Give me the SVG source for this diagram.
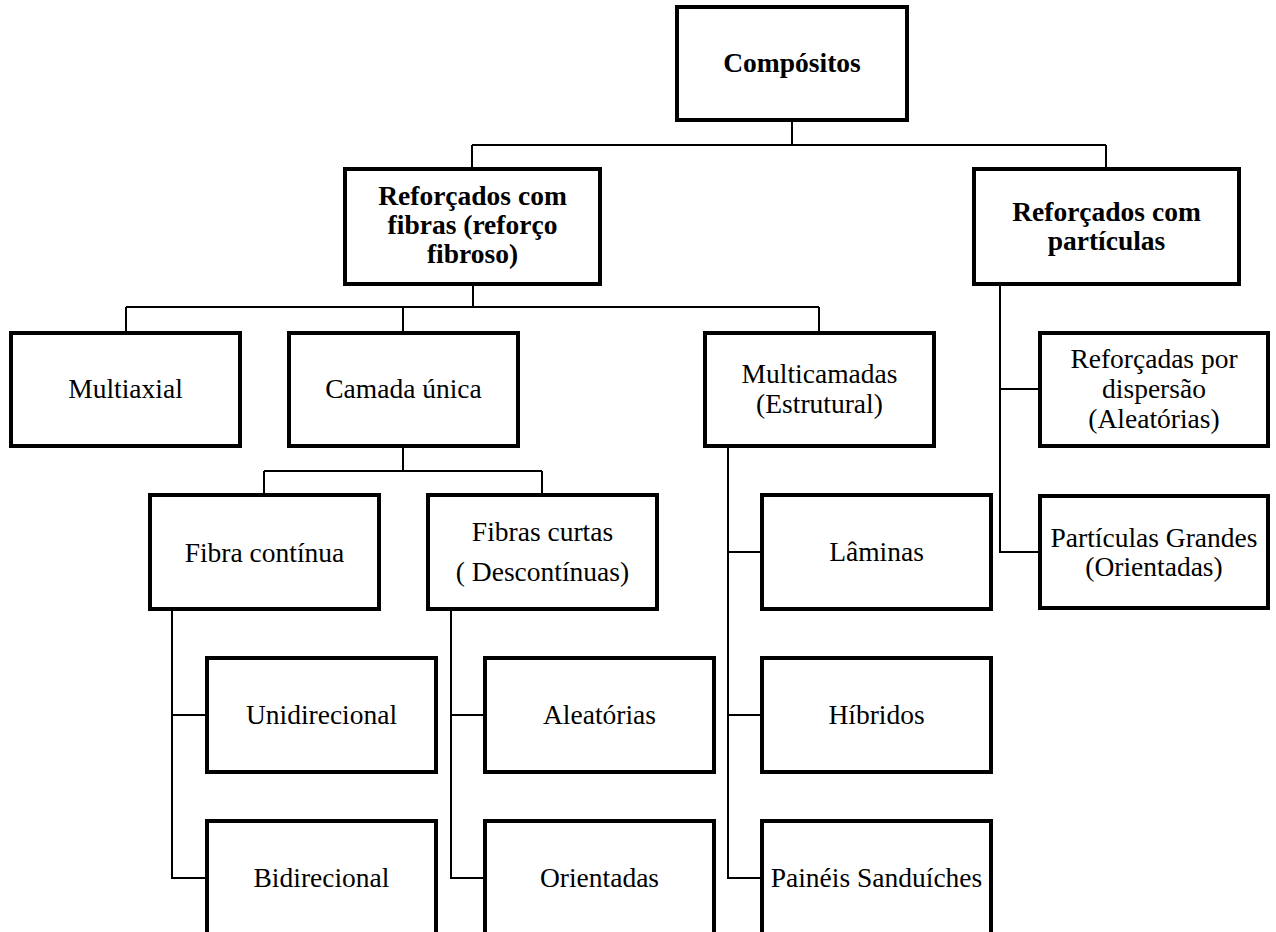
<svg xmlns="http://www.w3.org/2000/svg" width="1276" height="932" viewBox="0 0 1276 932">
<style>
.box{fill:#fff;stroke:#000;stroke-width:4}
.t{font-family:"Liberation Serif","Times New Roman",serif;font-size:27.5px;fill:#000;text-anchor:middle}
.b{font-weight:bold}
#connectors path{fill:none;stroke:#000;stroke-width:2}
</style>
<rect width="1276" height="932" fill="#fff"/>
<g id="connectors">
<path d="M792 120V145M472 145H1106M472 145V169M1106 145V169"/>
<path d="M473 284V307M126 307H819M126 307V333M403 307V333M819 307V333"/>
<path d="M403 446V471M264 471H542M264 471V495M542 471V495"/>
<path d="M172 609V878H207M172 715H207"/>
<path d="M451 609V878H485M451 715H485"/>
<path d="M728 446V878H763M728 552H763M728 715H763"/>
<path d="M1000 284V552H1040M1000 389H1040"/>
</g>
<g id="compositos"><rect class="box" x="677" y="7" width="230" height="113"/><text class="t b" x="792" y="72">Compósitos</text></g>
<g id="fibras"><rect class="box" x="345" y="169" width="255" height="115"/><text class="t b" x="472.5" y="205">Reforçados com</text><text class="t b" x="472.5" y="234">fibras (reforço</text><text class="t b" x="472.5" y="263">fibroso)</text></g>
<g id="particulas"><rect class="box" x="974" y="169" width="265" height="115"/><text class="t b" x="1106.5" y="221">Reforçados com</text><text class="t b" x="1106.5" y="250">partículas</text></g>
<g id="multiaxial"><rect class="box" x="11" y="333" width="229" height="113"/><text class="t" x="125.5" y="398">Multiaxial</text></g>
<g id="camada"><rect class="box" x="289" y="333" width="229" height="113"/><text class="t" x="403.5" y="398">Camada única</text></g>
<g id="multicamadas"><rect class="box" x="705" y="333" width="229" height="113"/><text class="t" x="819.5" y="383">Multicamadas</text><text class="t" x="819.5" y="413">(Estrutural)</text></g>
<g id="dispersao"><rect class="box" x="1040" y="333" width="228" height="113"/><text class="t" x="1154" y="368">Reforçadas por</text><text class="t" x="1154" y="398">dispersão</text><text class="t" x="1154" y="428">(Aleatórias)</text></g>
<g id="grandes"><rect class="box" x="1040" y="496" width="228" height="112"/><text class="t" x="1154" y="547">Partículas Grandes</text><text class="t" x="1154" y="576">(Orientadas)</text></g>
<g id="continua"><rect class="box" x="150" y="495" width="229" height="114"/><text class="t" x="264.5" y="562">Fibra contínua</text></g>
<g id="curtas"><rect class="box" x="428" y="495" width="229" height="114"/><text class="t" x="542.5" y="541">Fibras curtas</text><text class="t" x="542.5" y="581">( Descontínuas)</text></g>
<g id="laminas"><rect class="box" x="762" y="495" width="229" height="114"/><text class="t" x="876.5" y="561">Lâminas</text></g>
<g id="unidirecional"><rect class="box" x="207" y="658" width="229" height="114"/><text class="t" x="321.5" y="724">Unidirecional</text></g>
<g id="aleatorias"><rect class="box" x="485" y="658" width="229" height="114"/><text class="t" x="599.5" y="724">Aleatórias</text></g>
<g id="hibridos"><rect class="box" x="762" y="658" width="229" height="114"/><text class="t" x="876.5" y="724">Híbridos</text></g>
<g id="bidirecional"><rect class="box" x="207" y="821" width="229" height="140"/><text class="t" x="321.5" y="887">Bidirecional</text></g>
<g id="orientadas"><rect class="box" x="485" y="821" width="229" height="140"/><text class="t" x="599.5" y="887">Orientadas</text></g>
<g id="paineis"><rect class="box" x="762" y="821" width="229" height="140"/><text class="t" x="876.5" y="887">Painéis Sanduíches</text></g>
</svg>
